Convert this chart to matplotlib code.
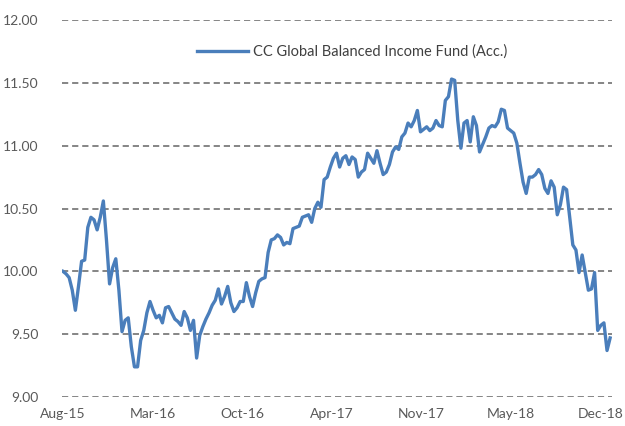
import matplotlib
matplotlib.use("Agg")
import matplotlib.pyplot as plt
import numpy as np

series_name = "CC Global Balanced Income Fund (Acc.)"
nav = [
    10.00, 9.98, 9.95, 9.85, 9.69, 9.88, 10.08, 10.09, 10.35, 10.43,
    10.41, 10.33, 10.43, 10.56, 10.25, 9.90, 10.03, 10.10, 9.85, 9.52,
    9.61, 9.63, 9.40, 9.24, 9.24, 9.45, 9.53, 9.67, 9.76, 9.69,
    9.63, 9.65, 9.59, 9.71, 9.72, 9.67, 9.62, 9.60, 9.57, 9.68,
    9.63, 9.53, 9.61, 9.31, 9.49, 9.56, 9.62, 9.67, 9.73, 9.77,
    9.86, 9.74, 9.80, 9.88, 9.75, 9.68, 9.71, 9.76, 9.76, 9.91,
    9.80, 9.72, 9.83, 9.92, 9.94, 9.95, 10.15, 10.25, 10.26, 10.29,
    10.27, 10.21, 10.23, 10.22, 10.34, 10.35, 10.36, 10.43, 10.44, 10.45,
    10.39, 10.50, 10.55, 10.51, 10.73, 10.75, 10.83, 10.90, 10.94, 10.83,
    10.90, 10.92, 10.85, 10.91, 10.89, 10.75, 10.79, 10.81, 10.94, 10.90,
    10.86, 10.96, 10.86, 10.77, 10.79, 10.85, 10.95, 10.99, 10.97, 11.07,
    11.10, 11.18, 11.15, 11.20, 11.28, 11.11, 11.13, 11.15, 11.12, 11.14,
    11.20, 11.16, 11.15, 11.36, 11.39, 11.53, 11.52, 11.20, 10.98, 11.18,
    11.20, 11.03, 11.23, 11.16, 10.95, 11.01, 11.07, 11.14, 11.16, 11.15,
    11.19, 11.29, 11.28, 11.14, 11.12, 11.10, 11.02, 10.86, 10.71, 10.62,
    10.75, 10.75, 10.77, 10.81, 10.77, 10.66, 10.62, 10.72, 10.67, 10.45,
    10.53, 10.67, 10.65, 10.43, 10.21, 10.17, 9.99, 10.13, 9.99, 9.85,
    9.86, 9.99, 9.53, 9.57, 9.59, 9.37, 9.47,
]
x_labels = ["Aug-15", "Mar-16", "Oct-16", "Apr-17", "Nov-17", "May-18", "Dec-18"]
y_ticks = [9.00, 9.50, 10.00, 10.50, 11.00, 11.50, 12.00]

label_step = 28.8  # categories between labels

plt.rcParams['font.family'] = ['Lato', 'DejaVu Sans']

fig = plt.figure(figsize=(6.25, 4.26), dpi=100)
ax = fig.add_axes([62/625, 29/426, 550/625, 377/426])

x = np.arange(len(nav))
line, = ax.plot(x, nav, color="#4A7EBB", lw=2.4, solid_joinstyle="round",
                label=series_name, zorder=3)

ax.set_ylim(9.0, 12.0)
ax.set_xlim(-0.3, len(nav) - 1 + 0.6)
ax.set_yticks(y_ticks)
ax.set_yticklabels([f"{v:.2f}" for v in y_ticks])
ax.set_xticks(np.arange(len(x_labels)) * label_step)
ax.set_xticklabels(x_labels)

for v in y_ticks:
    ax.axhline(v, color="#858585", lw=1.4, ls=(0, (3.2, 2.0)), zorder=1)

for s in ax.spines.values():
    s.set_visible(False)
ax.tick_params(axis="both", length=0, labelsize=10, colors="#595959")
ax.tick_params(axis="y", pad=17)
ax.tick_params(axis="x", pad=8)

leg = fig.legend(handles=[line], loc="center", bbox_to_anchor=(352/625, 1 - 52/426),
                 frameon=False, fontsize=10.5, handlelength=3.5, handletextpad=0.3)
for t in leg.get_texts():
    t.set_color("#404040")

fig.savefig("out.png", dpi=100)
